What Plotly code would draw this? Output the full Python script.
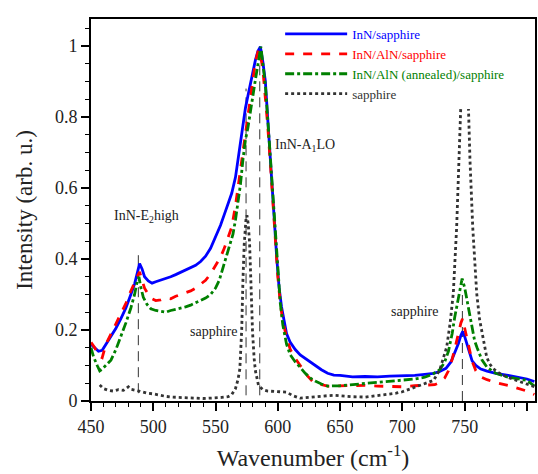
import plotly.graph_objects as go

# ---------------- data ----------------
blue_x = [450, 453, 456, 459, 462, 466, 470, 474, 478, 482, 485, 487, 489, 491, 493, 496, 499, 502, 506, 510,
          514, 518, 522, 526, 530, 534, 538, 542, 546, 550, 554, 557, 560, 563, 566, 568, 570, 572, 574, 576,
          578, 580, 582, 584, 586, 588, 590, 592, 593, 595, 597, 599, 601, 603, 605, 607, 610, 614, 618, 622,
          627, 631, 635, 640, 645, 650, 655, 660, 670, 680, 690, 700, 710, 718, 725, 730, 735, 739, 742, 745,
          747, 748.5, 750, 752, 754, 756, 759, 763, 768, 775, 785, 792, 800, 806]
blue_y = [0.160, 0.150, 0.140, 0.143, 0.160, 0.180, 0.205, 0.232, 0.262, 0.300, 0.330, 0.358, 0.387, 0.372, 0.350,
          0.338, 0.332, 0.336, 0.340, 0.345, 0.350, 0.356, 0.362, 0.368, 0.374, 0.382, 0.393, 0.408, 0.430, 0.462,
          0.495, 0.525, 0.553, 0.585, 0.630, 0.680, 0.730, 0.780, 0.825, 0.860, 0.895, 0.930, 0.960, 0.985, 0.998,
          0.955, 0.900, 0.790, 0.740, 0.630, 0.520, 0.410, 0.320, 0.265, 0.225, 0.190, 0.165, 0.145, 0.130, 0.120,
          0.110, 0.100, 0.088, 0.078, 0.073, 0.072, 0.070, 0.068, 0.069, 0.068, 0.070, 0.071, 0.072, 0.075, 0.078,
          0.083, 0.092, 0.110, 0.135, 0.162, 0.185, 0.196, 0.182, 0.158, 0.132, 0.113, 0.100, 0.090, 0.084, 0.078,
          0.072, 0.068, 0.062, 0.055]

red_x = [450, 453, 456, 459, 462, 466, 470, 474, 478, 482, 485, 487, 489, 491, 493, 496, 499, 502, 506, 510,
         514, 518, 522, 526, 530, 534, 538, 542, 546, 550, 554, 557, 560, 563, 566, 568, 570, 572, 574, 576,
         578, 580, 582, 584.5, 586, 588, 590, 592, 594, 596, 598, 600, 602, 604, 607, 610, 613, 616, 620, 624,
         628, 633, 640, 650, 660, 670, 680, 690, 700, 710, 720, 726, 730, 734, 737, 740, 743, 745, 747, 748.3,
         750, 752, 754, 756, 759, 763, 768, 775, 785, 792, 800, 806]
red_y = [0.165, 0.150, 0.128, 0.122, 0.160, 0.190, 0.220, 0.245, 0.275, 0.310, 0.335, 0.352, 0.364, 0.340, 0.318,
         0.300, 0.288, 0.283, 0.285, 0.290, 0.288, 0.295, 0.300, 0.303, 0.310, 0.318, 0.328, 0.340, 0.358, 0.380,
         0.405, 0.430, 0.460, 0.490, 0.550, 0.600, 0.655, 0.710, 0.760, 0.815, 0.865, 0.915, 0.955, 0.990, 0.975,
         0.935, 0.860, 0.770, 0.670, 0.560, 0.450, 0.350, 0.275, 0.225, 0.180, 0.145, 0.125, 0.110, 0.090, 0.070,
         0.055, 0.048, 0.042, 0.043, 0.045, 0.044, 0.042, 0.041, 0.040, 0.043, 0.044, 0.046, 0.052, 0.065, 0.085,
         0.118, 0.160, 0.192, 0.220, 0.232, 0.205, 0.170, 0.138, 0.112, 0.085, 0.068, 0.060, 0.052, 0.044, 0.036,
         0.028, 0.018]

green_x = [450, 452, 455, 457, 459, 462, 466, 470, 474, 478, 482, 485, 487, 488.5, 490, 492, 495, 498, 502, 506,
           510, 514, 518, 522, 526, 530, 534, 538, 542, 546, 550, 553, 556, 559, 562, 564, 566, 568, 570, 572,
           574, 576, 578, 580, 582, 584.5, 586.4, 588, 590, 592, 594, 596, 598, 600, 602, 604, 607, 610, 614, 618,
           622, 626, 630, 635, 640, 650, 660, 670, 680, 690, 700, 710, 718, 724, 730, 734, 737, 740, 742, 744,
           746, 748, 750, 752, 754, 756, 758, 760, 764, 768, 775, 784, 792, 800, 806]
green_y = [0.150, 0.125, 0.100, 0.085, 0.090, 0.100, 0.115, 0.145, 0.180, 0.220, 0.262, 0.300, 0.335, 0.350, 0.320,
           0.292, 0.272, 0.260, 0.255, 0.252, 0.250, 0.255, 0.258, 0.260, 0.265, 0.270, 0.276, 0.282, 0.290, 0.300,
           0.318, 0.340, 0.375, 0.410, 0.440, 0.470, 0.510, 0.555, 0.610, 0.680, 0.735, 0.770, 0.810, 0.860, 0.905,
           0.965, 0.998, 0.950, 0.890, 0.790, 0.690, 0.580, 0.470, 0.360, 0.275, 0.215, 0.160, 0.130, 0.110, 0.095,
           0.078, 0.065, 0.056, 0.048, 0.042, 0.043, 0.046, 0.049, 0.052, 0.055, 0.058, 0.062, 0.067, 0.075, 0.088,
           0.110, 0.140, 0.190, 0.235, 0.270, 0.310, 0.345, 0.320, 0.280, 0.245, 0.200, 0.170, 0.150, 0.115, 0.095,
           0.078, 0.068, 0.062, 0.058, 0.042]

sap_x = [457, 460, 464, 468, 472, 476, 480, 482, 486, 490, 495, 500, 505, 510, 515, 520, 525, 530, 535, 540,
         545, 550, 555, 560, 563, 566, 568, 569.5, 571, 572, 573, 574.5, 575.2, 576.2, 577.3, 578.4, 579.7, 581, 582, 584.5,
         588, 592, 600, 607, 612, 618, 625, 632, 640, 645, 650, 660, 670, 680, 690, 695, 700, 705, 710, 715,
         720, 725, 730, 733, 735.6, 738.3, 740.9, 743.6, 745.5, 746.8, 748, 749.8, 751.5, 752.9, 754.3, 756.5, 759.7, 762, 765, 767.7,
         770, 773, 778, 783.7, 790, 795, 800, 806]
sap_y = [0.045, 0.035, 0.030, 0.028, 0.032, 0.030, 0.040, 0.033, 0.030, 0.026, 0.022, 0.020, 0.016, 0.013, 0.011,
         0.010, 0.008, 0.007, 0.008, 0.007, 0.008, 0.008, 0.010, 0.012, 0.018, 0.035, 0.060, 0.090, 0.200, 0.340,
         0.440, 0.515, 0.523, 0.500, 0.448, 0.335, 0.195, 0.120, 0.085, 0.044, 0.032, 0.028, 0.026, 0.025, 0.015,
         0.008, 0.010, 0.013, 0.015, 0.016, 0.014, 0.012, 0.011, 0.015, 0.019, 0.022, 0.026, 0.032, 0.038, 0.045,
         0.052, 0.058, 0.087, 0.120, 0.152, 0.218, 0.303, 0.490, 0.678, 0.848, 0.940, 0.980, 0.940, 0.848, 0.678,
         0.490, 0.303, 0.230, 0.171, 0.124, 0.105, 0.091, 0.078, 0.068, 0.060, 0.054, 0.049, 0.040]

series_names = ["InN/sapphire", "InN/AlN/sapphire", "InN/AlN (annealed)/sapphire", "sapphire"]
series_colors = ["#0000ff", "#ff0000", "#008000", "#333333"]

x_ticks = [450, 500, 550, 600, 650, 700, 750, 800]
y_ticks = [0, 0.2, 0.4, 0.6, 0.8, 1]
y_tick_text = ["0", "0.2", "0.4", "0.6", "0.8", "1"]

# marker guide lines: (x, y_from, y_to)
guide_lines = [(488, 0.022, 0.415), (574.5, 0.016, 0.88), (585.5, 0.016, 0.95), (748.2, 0.0, 0.31)]

labels = [("InN-E<sub>2</sub>high", 494.8, 0.519),
          ("InN-A<sub>1</sub>LO", 621.7, 0.721),
          ("sapphire", 548.4, 0.195),
          ("sapphire", 709.4, 0.251)]

# ---------------- figure ----------------
FONT = "Liberation Serif"
fig = go.Figure()
styles = ["solid", "dash", "dashdot", "dot"]
data = [(blue_x, blue_y), (red_x, red_y), (green_x, green_y), (sap_x, sap_y)]
for (xs, ys), name, col, dash in zip(data, series_names, series_colors, styles):
    fig.add_trace(go.Scatter(
        x=xs, y=ys, mode="lines",
        name=f"<span style='color:{col}'>{name}</span>",
        line=dict(color=col, width=2.8, dash=dash),
    ))

for gx, y0, y1 in guide_lines:
    fig.add_shape(type="line", xref="x", yref="y", x0=gx, x1=gx, y0=y0, y1=y1,
                  line=dict(color="#333333", width=1, dash="10px,6px"), layer="below")

for txt, ax, ay in labels:
    fig.add_annotation(x=ax, y=ay, xref="x", yref="y", text=txt, showarrow=False,
                       font=dict(family=FONT, size=14, color="#222222"))

fig.update_layout(
    width=538, height=474,
    margin=dict(l=91, r=3, t=19, b=73, autoexpand=False),
    paper_bgcolor="white", plot_bgcolor="white",
    font=dict(family=FONT, color="#222222"),
    showlegend=True,
    legend=dict(x=0.426, y=1.0, xanchor="left", yanchor="top",
                bgcolor="white", borderwidth=0, itemwidth=62,
                font=dict(family=FONT, size=13), tracegroupgap=0),
    xaxis=dict(range=[450, 806.5], tickvals=x_ticks, ticks="outside", ticklen=8, tickwidth=1.5,
               tickcolor="black", showline=True, linecolor="black", linewidth=2, mirror=True,
               showgrid=False, zeroline=False, tickfont=dict(family=FONT, size=18, color="#222222"),
               minor=dict(dtick=10, ticks="outside", ticklen=4, tickwidth=1.2, tickcolor="black", showgrid=False),
               title=dict(text="Wavenumber (cm<sup>-1</sup>)", font=dict(family=FONT, size=24, color="#222222"),
                          standoff=14)),
    yaxis=dict(range=[0, 1.076], tickvals=y_ticks, ticktext=y_tick_text, ticks="outside", ticklen=8,
               tickwidth=1.5, tickcolor="black", showline=True, linecolor="black", linewidth=2, mirror=True,
               showgrid=False, zeroline=False, tickfont=dict(family=FONT, size=18, color="#222222"),
               minor=dict(dtick=0.05, ticks="outside", ticklen=4, tickwidth=1.2, tickcolor="black", showgrid=False),
               title=dict(text="Intensity (arb. u.)", font=dict(family=FONT, size=23, color="#222222"),
                          standoff=16)),
)

fig.write_html("out.html")
